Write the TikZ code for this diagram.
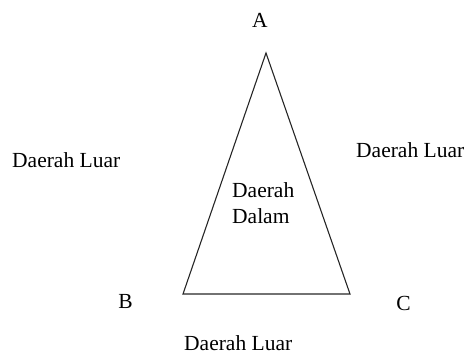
\documentclass[tikz,border=0pt]{standalone}
\usepackage{fontspec}
\setmainfont{Liberation Serif}
\begin{document}
\begin{tikzpicture}[x=1pt,y=1pt,
  lbl/.style={inner sep=0pt,anchor=base west,font=\fontsize{21.5}{26}\selectfont},
  vlbl/.style={inner sep=0pt,anchor=base,font=\fontsize{21.5}{26}\selectfont},
  edge/.style={line width=1.1pt,draw=black!85}]
\useasboundingbox (0,0) rectangle (467,356);
\coordinate (A) at (266,303);
\coordinate (B) at (183,62);
\coordinate (C) at (350,62);
\draw[edge,line join=miter] (A) -- (B) -- (C) -- cycle;
\node[vlbl] (la) at (260,328) {A};
\node[vlbl] (lb) at (125.5,47) {B};
\node[vlbl] (lc) at (403.5,45.5) {C};
\node[lbl] (luarL) at (12,188.7) {Daerah Luar};
\node[lbl] (luarR) at (356,198.7) {Daerah Luar};
\node[lbl] (luarB) at (184,5.3) {Daerah Luar};
\node[lbl] (dalam1) at (232,158.7) {Daerah};
\node[lbl] (dalam2) at (232,132.7) {Dalam};
\end{tikzpicture}
\end{document}
